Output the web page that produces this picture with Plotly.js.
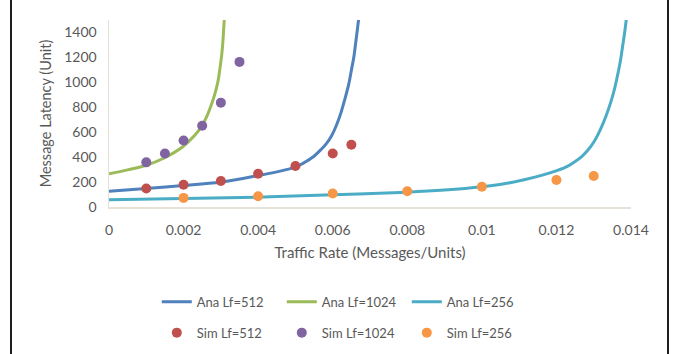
<!DOCTYPE html>
<html>
<head>
<meta charset="utf-8">
<script src="https://cdn.plot.ly/plotly-3.0.1.min.js"></script>
<style>
  html, body { margin: 0; padding: 0; background: #fff; }
  #wrap { position: relative; width: 674px; height: 354px; overflow: hidden; }
  #chart { width: 674px; height: 354px; }
  .edge { position: absolute; top: 0; width: 2px; height: 354px; background: #1e1e1e; }
</style>
</head>
<body>
<div id="wrap">
  <div id="chart"></div>
  <div class="edge" style="left:10px"></div>
  <div class="edge" style="left:667px"></div>
</div>
<script>
// Analytical curves
const ana512X  = [0, 0.001, 0.002, 0.003, 0.004, 0.0045, 0.005, 0.0052, 0.00547, 0.0057, 0.00583, 0.00597, 0.0061, 0.00622, 0.00633, 0.00643, 0.00651, 0.00657, 0.00662, 0.00666, 0.0067];
const ana512Y  = [127, 149, 172, 200, 252, 282, 320, 350, 401, 465, 508, 572, 656, 755, 870, 985, 1112, 1210, 1326, 1420, 1520];
const ana1024X = [0, 0.0005, 0.001, 0.00148, 0.00197, 0.0023, 0.00249, 0.00262, 0.00274, 0.00284, 0.00292, 0.00298, 0.00303, 0.00306, 0.00308, 0.0031];
const ana1024Y = [267, 298, 335, 393, 481, 575, 650, 725, 817, 908, 1004, 1120, 1240, 1350, 1450, 1540];
const ana256X  = [0, 0.002, 0.004, 0.006, 0.008, 0.009, 0.01, 0.0106, 0.01113, 0.0116, 0.01203, 0.01228, 0.01248, 0.01267, 0.01284, 0.01302, 0.01319, 0.01333, 0.01346, 0.01356, 0.01364, 0.01372, 0.01378, 0.01383, 0.01388];
const ana256Y  = [58, 68, 79, 98, 119, 136, 162, 186, 219, 254, 294, 324, 361, 403, 455, 530, 629, 730, 843, 950, 1058, 1180, 1299, 1400, 1520];

// Simulation points
const sim512X  = [0.001, 0.002, 0.003, 0.004, 0.005, 0.006, 0.0065];
const sim512Y  = [149, 178, 209, 267, 329, 429, 499];
const sim1024X = [0.001, 0.0015, 0.002, 0.0025, 0.003, 0.0035];
const sim1024Y = [358, 429, 533, 652, 837, 1164];
const sim256X  = [0.002, 0.004, 0.006, 0.008, 0.01, 0.012, 0.013];
const sim256Y  = [73, 86, 108, 127, 163, 217, 249];

// Ticks
const xTickVals = [0, 0.002, 0.004, 0.006, 0.008, 0.01, 0.012, 0.014];
const xTickText = ['0', '0.002', '0.004', '0.006', '0.008', '0.01', '0.012', '0.014'];
const yTickVals = [0, 200, 400, 600, 800, 1000, 1200, 1400];
const yTickText = ['0', '200', '400', '600', '800', '1000', '1200', '1400'];

const FONT = 'Lato, "DejaVu Sans", sans-serif';
const TXT = '#595959';

function line(x, y, name, color) {
  return {x: x, y: y, name: name, type: 'scatter', mode: 'lines',
          line: {color: color, width: 3, shape: 'spline', smoothing: 1},
          legend: 'legend', hoverinfo: 'skip'};
}
function pts(x, y, name, color) {
  return {x: x, y: y, name: name, type: 'scatter', mode: 'markers',
          marker: {color: color, size: 10}, legend: 'legend2', hoverinfo: 'skip'};
}

const data = [
  line(ana512X, ana512Y, 'Ana Lf=512', '#4F81BD'),
  line(ana1024X, ana1024Y, 'Ana Lf=1024', '#9BBB59'),
  line(ana256X, ana256Y, 'Ana Lf=256', '#4BACC6'),
  pts(sim512X, sim512Y, 'Sim Lf=512', '#C0504D'),
  pts(sim1024X, sim1024Y, 'Sim Lf=1024', '#8064A2'),
  pts(sim256X, sim256Y, 'Sim Lf=256', '#F79646')
];

const legendCommon = {
  orientation: 'h', xanchor: 'left', yanchor: 'middle', xref: 'container', yref: 'container',
  font: {family: FONT, size: 13, color: TXT},
  entrywidthmode: 'pixels', entrywidth: 80,
  bgcolor: 'rgba(0,0,0,0)', borderwidth: 0, traceorder: 'normal'
};

const layout = {
  width: 674, height: 354,
  margin: {l: 109, r: 43, t: 20, b: 147, autoexpand: false},
  paper_bgcolor: '#fff', plot_bgcolor: '#fff',
  font: {family: FONT, size: 13, color: TXT},
  showlegend: true,
  xaxis: {
    range: [0, 0.014], tickvals: xTickVals, ticktext: xTickText, automargin: false,
    showgrid: false, zeroline: false, showline: true, linecolor: '#E6E2D8', linewidth: 1.5,
    ticks: '', ticklabelstandoff: 10,
    tickfont: {family: FONT, size: 14, color: TXT},
    title: {text: 'Traffic Rate (Messages/Units)', font: {family: FONT, size: 15, color: TXT}, standoff: 10}
  },
  yaxis: {
    range: [0, 1500], tickvals: yTickVals, ticktext: yTickText, automargin: false,
    showgrid: false, zeroline: false, showline: true, linecolor: '#E6E2D8', linewidth: 1.5,
    ticks: '', ticklabelstandoff: 8,
    tickfont: {family: FONT, size: 14, color: TXT},
    title: {text: 'Message Latency (Unit)', font: {family: FONT, size: 14.5, color: TXT}, standoff: 9}
  },
  legend: Object.assign({}, legendCommon, {x: 156.8 / 674, y: 1 - 301.7 / 354}),
  legend2: Object.assign({}, legendCommon, {x: 156.8 / 674, y: 1 - 332.7 / 354})
};

Plotly.newPlot('chart', data, layout, {displayModeBar: false, staticPlot: true});
</script>
</body>
</html>
